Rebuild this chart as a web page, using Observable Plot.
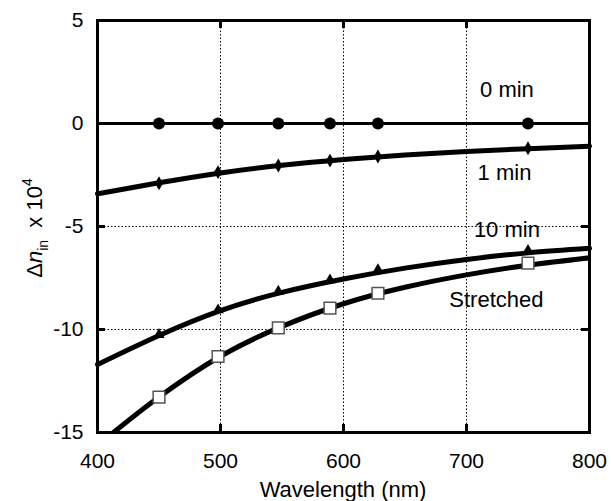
<!DOCTYPE html>
<html>
<head>
<meta charset="utf-8">
<script src="https://cdn.jsdelivr.net/npm/d3@7"></script>
<script src="https://cdn.jsdelivr.net/npm/@observablehq/plot@0.6"></script>
<style>
  html, body { margin: 0; padding: 0; background: #fff; }
  #chart svg { display: block; }
</style>
</head>
<body>
<div id="chart"></div>
<script>
// Measured wavelengths (nm) of the markers
const markerWl = [450, 498, 547, 589, 628, 750];
const pts0  = [0, 0, 0, 0, 0, 0];
const pts1  = [-2.9, -2.36, -2.04, -1.8, -1.6, -1.2];
const pts10 = [-10.25, -9.05, -8.15, -7.6, -7.1, -6.17];
const ptsS  = [-13.28, -11.31, -9.92, -8.96, -8.24, -6.78];

// Fitted curves
const fitWl   = [400, 450, 500, 550, 600, 650, 700, 750, 800];
const fit0    = [0, 0, 0, 0, 0, 0, 0, 0, 0];
const fit1    = [-3.41, -2.88, -2.40, -2.03, -1.75, -1.53, -1.36, -1.22, -1.1];
const fit10   = [-11.7, -10.29, -9.08, -8.2, -7.55, -7.02, -6.6, -6.28, -6.06];
const fitWlS  = [413, 450, 500, 550, 600, 650, 700, 750, 800];
const fitS    = [-15, -13.28, -11.3, -9.85, -8.75, -7.95, -7.35, -6.88, -6.52];

// Axis ticks
const xTicks = [400, 500, 600, 700, 800];
const yTicks = [5, 0, -5, -10, -15];
const xInner = [500, 600, 700];
const yInner = [0, -5, -10];

// Series labels (anchored in data units)
const labelText = ["0 min", "1 min", "10 min", "Stretched"];
const labelX = [711, 709, 706, 686];
const labelY = [1.28, -2.72, -5.53, -8.93];

const toPts = (xs, ys) => xs.map((x, i) => ({x, y: ys[i]}));
const labels = labelText.map((t, i) => ({t, x: labelX[i], y: labelY[i]}));

const W = 611, H = 501;
const mt = 20, mb = 69, ml = 97, mr = 22;
const fw = W - ml - mr, fh = H - mt - mb;
const tickLen = 8;

const plot = Plot.plot({
  width: W, height: H,
  marginTop: mt, marginBottom: mb, marginLeft: ml, marginRight: mr,
  style: {fontFamily: "'Liberation Sans', Arial, sans-serif", fontSize: "21px", color: "#000", background: "#fff"},
  x: {domain: [400, 800], ticks: xTicks, tickSize: 0, tickPadding: 21, label: null},
  y: {domain: [-15, 5], ticks: yTicks, tickSize: 0, tickPadding: 14, label: null, tickFormat: d => String(d)},
  marks: [
    Plot.ruleX(xInner, {stroke: "#000", strokeWidth: 1, strokeDasharray: "1.5,2"}),
    Plot.ruleY(yInner, {stroke: "#000", strokeWidth: 1, strokeDasharray: "1.5,2"}),
    Plot.line(toPts(fitWl, fit0), {x: "x", y: "y", stroke: "#000", strokeWidth: 3}),
    Plot.line(toPts(fitWl, fit1), {x: "x", y: "y", stroke: "#000", strokeWidth: 5, curve: "natural"}),
    Plot.line(toPts(fitWl, fit10), {x: "x", y: "y", stroke: "#000", strokeWidth: 5, curve: "natural"}),
    Plot.line(toPts(fitWlS, fitS), {x: "x", y: "y", stroke: "#000", strokeWidth: 5, curve: "natural", clip: true}),
    Plot.dot(toPts(markerWl, pts0), {x: "x", y: "y", r: 6, fill: "#000", symbol: "circle"}),
    Plot.dot(toPts(markerWl, pts1), {x: "x", y: "y", r: 4.2, fill: "#000", symbol: "diamond"}),
    Plot.dot(toPts(markerWl, pts10), {x: "x", y: "y", r: 4.2, fill: "#000", symbol: "triangle"}),
    Plot.dot(toPts(markerWl, ptsS), {x: "x", y: "y", r: 6.6, fill: "#fff", stroke: "#555", strokeWidth: 1.5, symbol: "square"}),
    Plot.tickX(xInner, {x: d => d, stroke: "#000", strokeWidth: 3, insetTop: fh - tickLen}),
    Plot.tickX(xInner, {x: d => d, stroke: "#000", strokeWidth: 3, insetBottom: fh - tickLen}),
    Plot.tickY(yInner, {y: d => d, stroke: "#000", strokeWidth: 3, insetRight: fw - tickLen}),
    Plot.tickY(yInner, {y: d => d, stroke: "#000", strokeWidth: 3, insetLeft: fw - tickLen}),
    Plot.frame({stroke: "#000", strokeWidth: 3}),
    Plot.text(labels, {x: "x", y: "y", text: "t", textAnchor: "start", lineAnchor: "bottom", fontSize: 22, fill: "#000"})
  ]
});

const svg = d3.select(plot);
// X axis title
svg.append("text")
  .attr("x", ml + fw / 2).attr("y", 497)
  .attr("text-anchor", "middle")
  .attr("font-size", 22)
  .attr("fill", "#000")
  .text("Wavelength (nm)");

// Y axis title with italic n, subscript and superscript
const yt = svg.append("text")
  .attr("transform", `translate(42, ${mt + fh / 2 + 2}) rotate(-90)`)
  .attr("text-anchor", "middle")
  .attr("font-size", 22)
  .attr("fill", "#000");
yt.append("tspan").text("Δ");
yt.append("tspan").attr("font-style", "italic").text("n");
yt.append("tspan").attr("font-size", 14).attr("dy", 6).text("in");
yt.append("tspan").attr("dy", -6).text("\u00a0\u00a0x 10");
yt.append("tspan").attr("font-size", 14).attr("dy", -10).text("4");

document.getElementById("chart").appendChild(plot);
</script>
</body>
</html>
